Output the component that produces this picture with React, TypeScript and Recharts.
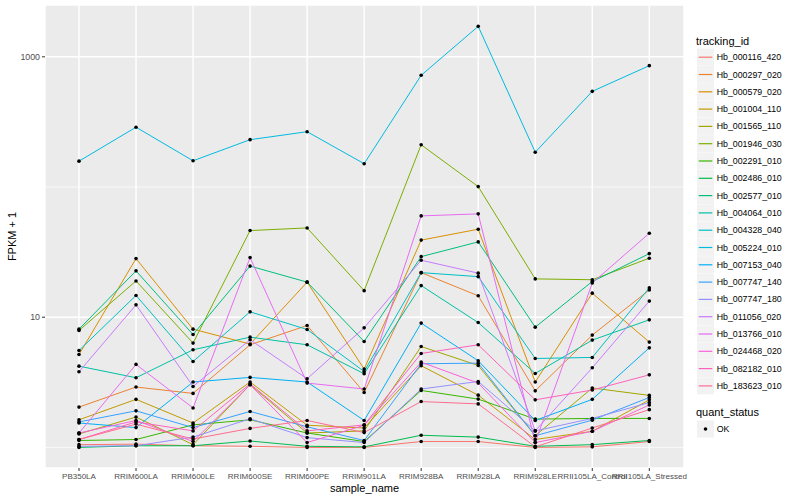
import React from 'react';
import { LineChart, Line, XAxis, YAxis, CartesianGrid } from 'recharts';

// sample order on the x axis
const samples = [
  'PB350LA', 'RRIM600LA', 'RRIM600LE', 'RRIM600SE', 'RRIM600PE', 'RRIM901LA',
  'RRIM928BA', 'RRIM928LA', 'RRIM928LE', 'RRII105LA_Control', 'RRII105LA_Stressed',
];

// FPKM + 1 per gene (same order as samples)
const hb000116_420 = [1.05, 1.06, 1.03, 1.02, 1.0, 1.0, 1.11, 1.11, 1.0, 1.01, 1.11];
const hb000297_020 = [2.04, 2.91, 2.6, 6.14, 8.64, 2.64, 22.0, 14.6, 2.72, 7.29, 16.2];
const hb000579_020 = [5.17, 28.2, 8.1, 6.22, 18.6, 4.0, 39.1, 47.4, 3.18, 15.3, 6.44];
const hb001004_110 = [1.63, 2.34, 1.54, 3.18, 1.48, 1.41, 4.24, 2.52, 1.15, 1.33, 2.32];
const hb001565_110 = [1.27, 1.71, 1.05, 3.03, 1.29, 1.34, 5.96, 4.26, 1.23, 2.86, 2.51];
const hb001946_030 = [7.91, 19.0, 6.33, 46.3, 48.5, 16.0, 211, 100.7, 19.7, 19.4, 28.4];
const hb002291_010 = [1.13, 1.15, 1.49, 1.63, 1.29, 1.11, 2.74, 2.35, 1.65, 1.67, 1.67];
const hb002486_010 = [1.0, 1.03, 1.03, 1.12, 1.02, 1.01, 1.24, 1.2, 1.02, 1.05, 1.13];
const hb002577_010 = [8.1, 22.7, 7.36, 24.7, 18.6, 6.51, 29.2, 37.9, 8.39, 18.8, 30.8];
const hb004064_010 = [4.21, 3.43, 5.62, 7.03, 6.14, 3.68, 17.5, 9.1, 3.7, 6.67, 9.55];
const hb004328_040 = [5.55, 14.7, 4.57, 11.0, 8.05, 3.83, 22.0, 20.5, 4.82, 4.91, 16.8];
const hb005224_010 = [158, 288, 159, 231, 266, 151, 721, 1714, 185, 543, 855];
const hb007153_040 = [1.54, 1.42, 3.18, 3.45, 3.18, 1.61, 9.01, 4.63, 1.61, 2.34, 5.82];
const hb007747_140 = [1.57, 1.91, 1.42, 1.89, 1.44, 1.13, 4.39, 4.44, 1.23, 1.62, 2.42];
const hb007747_180 = [1.02, 1.03, 1.2, 1.66, 1.19, 1.09, 2.81, 3.21, 1.34, 1.67, 2.21];
const hb011056_020 = [3.81, 12.45, 2.94, 6.71, 3.37, 8.29, 27.4, 21.8, 1.34, 4.09, 13.3];
const hb013766_010 = [1.29, 4.34, 2.01, 28.7, 3.12, 2.81, 60.0, 62.2, 1.09, 18.3, 44.2];
const hb024468_020 = [1.29, 1.61, 1.11, 3.03, 1.09, 1.48, 4.52, 3.12, 1.09, 1.33, 2.12];
const hb082182_010 = [1.15, 1.57, 1.34, 3.08, 1.34, 1.49, 5.27, 6.14, 2.32, 2.76, 3.61];
const hb183623_010 = [1.15, 1.51, 1.16, 1.4, 1.61, 1.3, 2.25, 2.16, 1.01, 1.41, 1.95];

const trackingIds = [
  'Hb_000116_420', 'Hb_000297_020', 'Hb_000579_020', 'Hb_001004_110', 'Hb_001565_110',
  'Hb_001946_030', 'Hb_002291_010', 'Hb_002486_010', 'Hb_002577_010', 'Hb_004064_010',
  'Hb_004328_040', 'Hb_005224_010', 'Hb_007153_040', 'Hb_007747_140', 'Hb_007747_180',
  'Hb_011056_020', 'Hb_013766_010', 'Hb_024468_020', 'Hb_082182_010', 'Hb_183623_010',
];

const seriesValues = [
  hb000116_420, hb000297_020, hb000579_020, hb001004_110, hb001565_110,
  hb001946_030, hb002291_010, hb002486_010, hb002577_010, hb004064_010,
  hb004328_040, hb005224_010, hb007153_040, hb007747_140, hb007747_180,
  hb011056_020, hb013766_010, hb024468_020, hb082182_010, hb183623_010,
];

// ggplot default hue palette for 20 levels
const colors = [
  '#F8766D', '#EA8331', '#D89000', '#C09B00', '#A3A500', '#7CAE00', '#39B600',
  '#00BB4E', '#00BF7D', '#00C1A3', '#00BFC4', '#00BAE0', '#00B0F6', '#35A2FF',
  '#9590FF', '#C77CFF', '#E76BF3', '#FA62DB', '#FF62BC', '#FF6C91',
];

const yTicks = [10, 1000];
const yMinor = [1, 100];

const data = samples.map((s, i) => {
  const row: Record<string, string | number> = { sample: s };
  trackingIds.forEach((id, k) => {
    row[id] = seriesValues[k][i];
  });
  return row;
});

const FONT = '"Liberation Sans", Arial, Helvetica, sans-serif';

const Legend = () => {
  const x0 = 697;
  const top = 48.6;
  const step = 17.3;
  return (
    <svg width={110} height={500} style={{ position: 'absolute', left: 690, top: 0 }} viewBox="690 0 110 500">
      <text x={696} y={44.5} fontSize={11} fontFamily={FONT} fill="#000">tracking_id</text>
      {trackingIds.map((id, k) => {
        const y = top + k * step;
        return (
          <g key={id}>
            <rect x={x0} y={y} width={17} height={17} fill="#F2F2F2" />
            <line x1={x0 + 1.7} x2={x0 + 15.3} y1={y + 8.6} y2={y + 8.6} stroke={colors[k]} strokeWidth={1.2} />
            <text x={716.7} y={y + 11.6} fontSize={8.8} fontFamily={FONT} fill="#000">{id}</text>
          </g>
        );
      })}
      <text x={696} y={416} fontSize={11} fontFamily={FONT} fill="#000">quant_status</text>
      <rect x={x0} y={420.5} width={17} height={17} fill="#F2F2F2" />
      <circle cx={x0 + 8.5} cy={429} r={1.8} fill="#000" />
      <text x={716.7} y={432} fontSize={8.8} fontFamily={FONT} fill="#000">OK</text>
    </svg>
  );
};

export default function App() {
  return (
    <div style={{ position: 'absolute', left: 0, top: 0, width: 800, height: 500, background: '#fff' }}>
      <LineChart
        width={800}
        height={500}
        data={data}
        margin={{ top: 5, right: 116, bottom: 2, left: 5 }}
      >
        <CartesianGrid fill="#EBEBEB" stroke="#FFFFFF" strokeWidth={1.4} />
        <CartesianGrid
          fill="none"
          stroke="#FFFFFF"
          strokeWidth={0.7}
          vertical={false}
          horizontalValues={yMinor}
        />
        <XAxis
          dataKey="sample"
          type="category"
          interval={0}
          height={30}
          padding={{ left: 34, right: 34.7 }}
          axisLine={false}
          tickSize={3}
          tickLine={{ stroke: '#333333' }}
          tick={{ fontSize: 8, fill: '#4D4D4D', fontFamily: FONT }}
          label={{ value: 'sample_name', position: 'insideBottom', offset: 6, fontSize: 11, fill: '#000', fontFamily: FONT }}
        />
        <YAxis
          scale="log"
          domain={[0.695, 2500]}
          allowDataOverflow
          ticks={yTicks}
          width={40}
          axisLine={false}
          tickSize={3}
          tickLine={{ stroke: '#333333' }}
          tick={{ fontSize: 8.8, fill: '#4D4D4D', fontFamily: FONT }}
          label={{ value: 'FPKM + 1', angle: -90, position: 'insideLeft', offset: 7, fontSize: 11, fill: '#000', fontFamily: FONT, style: { textAnchor: 'middle' } }}
        />
        {trackingIds.map((id, k) => (
          <Line
            key={id}
            type="linear"
            dataKey={id}
            stroke={colors[k]}
            strokeWidth={1}
            dot={false}
            activeDot={false}
            isAnimationActive={false}
          />
        ))}
        {trackingIds.map((id) => (
          <Line
            key={id + '-pt'}
            type="linear"
            dataKey={id}
            stroke="none"
            dot={{ r: 1.8, fill: '#000', stroke: 'none' }}
            activeDot={false}
            isAnimationActive={false}
          />
        ))}
      </LineChart>
      <Legend />
    </div>
  );
}
